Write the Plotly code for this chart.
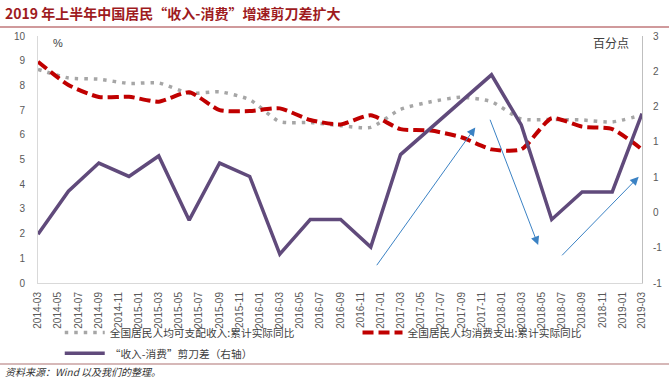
import plotly.graph_objects as go

# ---------------- data ----------------
quarters = ["2014-03", "2014-06", "2014-09", "2014-12",
            "2015-03", "2015-06", "2015-09", "2015-12",
            "2016-03", "2016-06", "2016-09", "2016-12",
            "2017-03", "2017-06", "2017-09", "2017-12",
            "2018-03", "2018-06", "2018-09", "2018-12",
            "2019-03"]
income = [8.65, 8.3, 8.25, 8.08, 8.1, 7.68, 7.74, 7.42, 6.53, 6.5, 6.37, 6.3,
          7.03, 7.34, 7.52, 7.34, 6.64, 6.62, 6.6, 6.52, 6.8]
consumption = [8.96, 8.02, 7.53, 7.54, 7.34, 7.72, 7.0, 6.96, 7.07, 6.6, 6.42, 6.79,
               6.23, 6.17, 5.9, 5.41, 5.41, 6.67, 6.33, 6.23, 5.41]
gap = [-0.31, 0.3, 0.7, 0.51, 0.8, -0.11, 0.7, 0.51, -0.59, -0.1, -0.1, -0.49,
       0.82, 1.2, 1.57, 1.95, 1.24, -0.1, 0.29, 0.29, 1.4]

tick_labels = ["2014-03", "2014-05", "2014-07", "2014-09", "2014-11",
               "2015-01", "2015-03", "2015-05", "2015-07", "2015-09", "2015-11",
               "2016-01", "2016-03", "2016-05", "2016-07", "2016-09", "2016-11",
               "2017-01", "2017-03", "2017-05", "2017-07", "2017-09", "2017-11",
               "2018-01", "2018-03", "2018-05", "2018-07", "2018-09", "2018-11",
               "2019-01", "2019-03"]
left_ticks = [0, 1, 2, 3, 4, 5, 6, 7, 8, 9, 10]
right_tickvals = [-1, -0.5, 0, 0.5, 1, 1.5, 2, 2.5]
right_ticktext = ["-1", "-1", "0", "1", "1", "2", "2", "3"]

names = ["全国居民人均可支配收入:累计实际同比",
         "全国居民人均消费支出:累计实际同比",
         "“收入-消费”剪刀差（右轴）"]

# arrows (tail -> head), left-axis units
arrows = [("2016-12-16", 0.66, "2017-10-13", 6.30),
          ("2017-11-25", 6.67, "2018-04-21", 1.54),
          ("2018-06-28", 1.06, "2019-02-19", 4.30)]

xq = [q + "-01" for q in quarters]
xt = [t + "-01" for t in tick_labels]

TICKFONT = dict(family="Liberation Sans, Arial", size=10, color="#595959")
CJK = "Noto Sans CJK SC"
LEGFONT = dict(family=CJK, size=10.7, color="#404040")

fig = go.Figure()
fig.add_trace(go.Scatter(
    x=xq, y=income, mode="lines", name=names[0],
    line=dict(color="#A6A6A6", width=3.5, dash="3.5px,6px", shape="spline", smoothing=0.6),
    legend="legend"))
fig.add_trace(go.Scatter(
    x=xq, y=consumption, mode="lines", name=names[1],
    line=dict(color="#C00000", width=4, dash="11px,5px", shape="spline", smoothing=0.6),
    legend="legend2"))
fig.add_trace(go.Scatter(
    x=xq, y=gap, mode="lines", name=names[2], yaxis="y2",
    line=dict(color="#604A7B", width=3.5),
    legend="legend3"))

annotations = []
for (tx, ty, hx, hy) in arrows:
    annotations.append(dict(
        x=hx, y=hy, ax=tx, ay=ty, xref="x", yref="y", axref="x", ayref="y",
        showarrow=True, arrowhead=2, arrowsize=1.7, arrowwidth=1,
        arrowcolor="#3B82C4", text=""))

annotations += [
    dict(text="2019 年上半年中国居民“收入-消费”增速剪刀差扩大", xref="paper", yref="paper",
         x=-0.058, y=1.093, xanchor="left", yanchor="middle", showarrow=False,
         font=dict(family=CJK, size=14, color="#9E1B1E", weight="bold")),
    dict(text="%", xref="paper", yref="paper", x=0.033, y=0.972,
         xanchor="center", yanchor="middle", showarrow=False,
         font=dict(family="Liberation Sans, Arial", size=11, color="#404040")),
    dict(text="百分点", xref="paper", yref="paper", x=0.9487, y=0.972,
         xanchor="center", yanchor="middle", showarrow=False,
         font=dict(family=CJK, size=12, color="#404040")),
    dict(text="资料来源：Wind 以及我们的整理。", xref="paper", yref="paper",
         x=-0.058, y=-0.360, xanchor="left", yanchor="middle", showarrow=False,
         font=dict(family=CJK, size=10, color="#333333", style="italic")),
]

shapes = [
    dict(type="line", xref="paper", yref="paper", x0=-0.063, x1=1.045, y0=1.0364, y1=1.0364,
         line=dict(color="#C0797B", width=1.5)),
    dict(type="line", xref="paper", yref="paper", x0=-0.063, x1=1.045, y0=-0.328, y1=-0.328,
         line=dict(color="#C9A0A0", width=1.5)),
]

leg_common = dict(orientation="h", xanchor="left", yanchor="top", font=LEGFONT,
                  itemwidth=40, bgcolor="rgba(0,0,0,0)")

fig.update_layout(
    width=669, height=382,
    margin=dict(l=38, r=27, t=36, b=99, autoexpand=False),
    paper_bgcolor="white", plot_bgcolor="white",
    xaxis=dict(type="date", range=[xt[0], xt[-1]], tickvals=xt, ticktext=tick_labels,
               tickangle=-90, tickfont=TICKFONT, showgrid=False, zeroline=False,
               showline=True, linecolor="#D9D9D9", linewidth=1, ticks="",
               ticklabelstandoff=4),
    yaxis=dict(range=[0, 10], tickvals=left_ticks, tickfont=TICKFONT, showgrid=False,
               zeroline=False, showline=True, linecolor="#D9D9D9", linewidth=1,
               ticks="", ticklabelstandoff=10),
    yaxis2=dict(range=[-1, 2.5], tickvals=right_tickvals, ticktext=right_ticktext,
                overlaying="y", side="right", tickfont=TICKFONT, showgrid=False,
                zeroline=False, showline=True, linecolor="#BFBFBF", linewidth=1,
                ticks="", ticklabelstandoff=8),
    legend=dict(x=0.036, y=-0.142, **leg_common),
    legend2=dict(x=0.529, y=-0.142, **leg_common),
    legend3=dict(x=0.036, y=-0.226, **leg_common),
    annotations=annotations,
    shapes=shapes,
    showlegend=True,
)

fig.write_html("out.html", config={"displayModeBar": False},
               post_script="document.body.style.margin='0';document.body.style.overflow='hidden';")
